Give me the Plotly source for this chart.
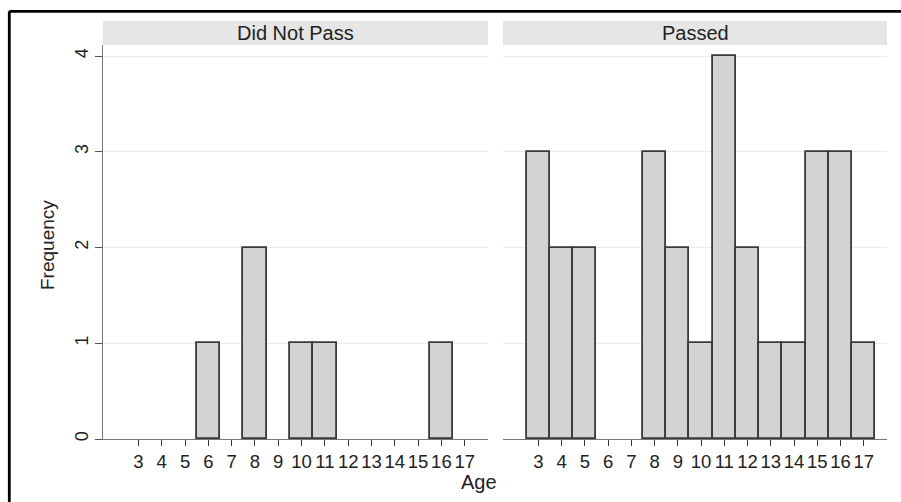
import plotly.graph_objects as go

# Data
ages = list(range(3, 18))
not_pass_ages = [6, 8, 10, 11, 16]
not_pass_freq = [1, 2, 1, 1, 1]
pass_ages = [3, 4, 5, 8, 9, 10, 11, 12, 13, 14, 15, 16, 17]
pass_freq = [3, 2, 2, 3, 2, 1, 4, 2, 1, 1, 3, 3, 1]
panel_titles = ["Did Not Pass", "Passed"]
y_ticks = [0, 1, 2, 3, 4]

W, H = 901, 502
L, R, T, B = 103, 14, 45, 63
pw = W - L - R
ph = H - T - B

def px_x(p):
    return (p - L) / pw

def px_y(p):
    return (H - B - p) / ph

bar_style = dict(marker=dict(color="#d3d3d3", line=dict(color="#3a3a3a", width=1.8)),
                 width=1, showlegend=False, hoverinfo="x+y")

fig = go.Figure()
fig.add_trace(go.Bar(x=not_pass_ages, y=not_pass_freq, xaxis="x", yaxis="y", **bar_style))
fig.add_trace(go.Bar(x=pass_ages, y=pass_freq, xaxis="x2", yaxis="y2", **bar_style))

font_main = "Liberation Sans, Arial, sans-serif"
xrange = [1.48, 18.0]
yrange = [0, 4.115]
d1 = [0, px_x(488)]
d2 = [px_x(503), 1]

xcommon = dict(range=xrange, tickvals=ages, ticktext=[str(a) for a in ages],
               showline=True, linecolor="#777777", linewidth=1.2,
               ticks="outside", ticklen=6, tickcolor="#333333", tickwidth=1.2,
               showgrid=False, zeroline=False, tickangle=0,
               tickfont=dict(family=font_main, size=18.5, color="#222222"))
ycommon = dict(range=yrange, tickvals=y_ticks, showgrid=True, gridcolor="#ececec", gridwidth=1,
               zeroline=False)

fig.update_layout(
    width=W, height=H,
    margin=dict(l=L, r=R, t=T, b=B, autoexpand=False),
    paper_bgcolor="white", plot_bgcolor="white",
    bargap=0,
    font=dict(family=font_main, color="#222222"),
    xaxis=dict(domain=d1, anchor="y", automargin=False, **xcommon),
    xaxis2=dict(domain=d2, anchor="y2", automargin=False, **xcommon),
    yaxis=dict(anchor="x", showline=True, linecolor="#777777", linewidth=1.2,
               ticks="outside", ticklen=7, tickcolor="#555555", tickwidth=1.2,
               tickangle=-90, ticklabelstandoff=0, automargin=False,
               tickfont=dict(family=font_main, size=18, color="#222222"), **ycommon),
    yaxis2=dict(anchor="x2", matches="y", showline=False, showticklabels=False,
                ticks="", automargin=False, **ycommon),
)

strip_top = px_y(21)
shapes = []
annotations = []
for dom, title in zip([d1, d2], panel_titles):
    shapes.append(dict(type="rect", xref="paper", yref="paper", x0=dom[0], x1=dom[1],
                       y0=1.0, y1=strip_top, fillcolor="#e6e6e6", line=dict(width=0), layer="below"))
    annotations.append(dict(text=title, xref="paper", yref="paper", x=(dom[0] + dom[1]) / 2,
                            y=(1.0 + strip_top) / 2, showarrow=False, xanchor="center", yanchor="middle",
                            font=dict(family=font_main, size=20, color="#222222")))

# outer frame (top and left edges visible)
bx, by = px_x(9.3), px_y(11.3)
shapes.append(dict(type="line", xref="paper", yref="paper", x0=bx, x1=1.2, y0=by, y1=by,
                   line=dict(color="black", width=2.8)))
shapes.append(dict(type="line", xref="paper", yref="paper", x0=bx, x1=bx, y0=by, y1=-0.3,
                   line=dict(color="black", width=2.8)))

annotations.append(dict(text="Age", xref="paper", yref="paper", x=px_x(479), y=px_y(482),
                        showarrow=False, xanchor="center", yanchor="middle",
                        font=dict(family=font_main, size=20, color="#222222")))
annotations.append(dict(text="Frequency", xref="paper", yref="paper", x=px_x(47), y=px_y(245),
                        showarrow=False, xanchor="center", yanchor="middle", textangle=-90,
                        font=dict(family=font_main, size=19, color="#222222")))

fig.update_layout(shapes=shapes, annotations=annotations)
fig.write_html("out.html", config={"displayModeBar": False},
               post_script="document.body.style.margin='0';document.body.style.overflow='hidden';")
